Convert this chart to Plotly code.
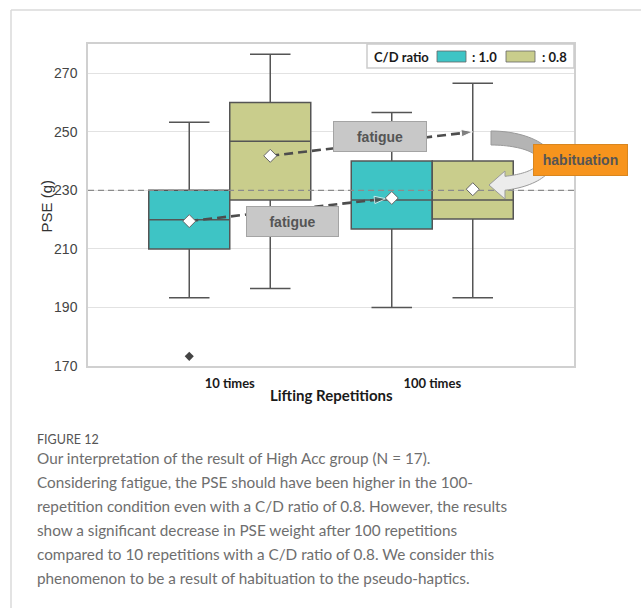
import math
import plotly.graph_objects as go

# Lifting repetitions on the x axis, C/D ratio groups within each
categories = ["10 times", "100 times"]
ratio_labels = [": 1.0", ": 0.8"]

# PSE (g) box statistics per C/D ratio, listed in category order
q1_cd10 = [210.0, 216.8]
median_cd10 = [220.0, 226.7]
q3_cd10 = [230.0, 240.0]
lower_cd10 = [193.3, 190.0]
upper_cd10 = [253.3, 256.6]
mean_cd10 = [219.5, 227.4]
outlier_cd10 = [173.3]          # single outlier in the 10-times group

q1_cd08 = [226.7, 220.2]
median_cd08 = [246.8, 226.7]
q3_cd08 = [260.0, 240.0]
lower_cd08 = [196.5, 193.3]
upper_cd08 = [276.5, 266.6]
mean_cd08 = [241.8, 230.4]

reference_pse = 230             # standard weight
fatigue_expected_cd08 = 250     # PSE expected at 100 times (C/D 0.8) from fatigue alone

y_ticks = [170, 190, 210, 230, 250, 270]

caption_title = "FIGURE 12"
caption_lines = [
    "Our interpretation of the result of High Acc group (N = 17).",
    "Considering fatigue, the PSE should have been higher in the 100-",
    "repetition condition even with a C/D ratio of 0.8. However, the results",
    "show a significant decrease in PSE weight after 100 repetitions",
    "compared to 10 repetitions with a C/D ratio of 0.8. We consider this",
    "phenomenon to be a result of habituation to the pseudo-haptics.",
]

# ---- geometry -----------------------------------------------------------
W, H = 641, 608
ML, MR, MT, MB = 88, 67, 44, 242
PW, PH = W - ML - MR, H - MT - MB
XR = [-0.7, 1.7]
YR = [170, 280]
OFFSET, BOX_W = 0.2, 0.4

TEAL = "#3ec4c5"
OLIVE = "#c9cd8c"
EDGE = "#555555"
CHART_FONT = "Lato, Liberation Sans, sans-serif"
CAPTION_FONT = "Lato, Liberation Sans, sans-serif"


def paper(px, py):
    """Pixel position on the page -> paper coordinates."""
    return (px - ML) / PW, (H - MB - py) / PH


def to_px(x, y):
    return (ML + (x - XR[0]) / (XR[1] - XR[0]) * PW,
            MT + (YR[1] - y) / (YR[1] - YR[0]) * PH)


def to_data(px, py):
    return (XR[0] + (px - ML) / PW * (XR[1] - XR[0]),
            YR[1] - (py - MT) / PH * (YR[1] - YR[0]))


def shorten(x0, y0, x1, y1, gap):
    """Pull the end of a segment back by `gap` pixels."""
    a, b = to_px(x0, y0), to_px(x1, y1)
    d = math.hypot(b[0] - a[0], b[1] - a[1])
    t = (d - gap) / d
    return to_data(a[0] + (b[0] - a[0]) * t, a[1] + (b[1] - a[1]) * t)


fig = go.Figure()

pos_cd10 = [i - OFFSET for i in range(len(categories))]
pos_cd08 = [i + OFFSET for i in range(len(categories))]

for pos, q1, med, q3, lo, hi, color in [
    (pos_cd10, q1_cd10, median_cd10, q3_cd10, lower_cd10, upper_cd10, TEAL),
    (pos_cd08, q1_cd08, median_cd08, q3_cd08, lower_cd08, upper_cd08, OLIVE),
]:
    fig.add_trace(go.Box(
        x=pos, q1=q1, median=med, q3=q3, lowerfence=lo, upperfence=hi,
        width=BOX_W, whiskerwidth=0.5, fillcolor=color,
        line=dict(color=EDGE, width=1.5), boxpoints=False,
        showlegend=False, hoverinfo="skip",
    ))

# outlier
fig.add_trace(go.Scatter(
    x=[pos_cd10[0]] * len(outlier_cd10), y=outlier_cd10, mode="markers",
    marker=dict(symbol="diamond", size=7, color="#444444"),
    showlegend=False, hoverinfo="skip",
))

# reference weight line
fig.add_trace(go.Scatter(
    x=XR, y=[reference_pse, reference_pse], mode="lines",
    line=dict(color="#8c8c8c", width=1.3, dash="6px,4px"),
    showlegend=False, hoverinfo="skip",
))

# fatigue arrows
arrows = [
    (pos_cd08[0], mean_cd08[0], pos_cd08[1], fatigue_expected_cd08, 0),
    (pos_cd10[0], mean_cd10[0], pos_cd10[1], mean_cd10[1], 6),
]
for x0, y0, x1, y1, gap in arrows:
    if gap:
        x1, y1 = shorten(x0, y0, x1, y1, gap)
    fig.add_trace(go.Scatter(
        x=[x0, x1], y=[y0, y1], mode="lines+markers",
        line=dict(color="#4d4d4d", width=2.6, dash="9px,5px"),
        marker=dict(symbol="arrow", size=[0, 12], angleref="previous",
                    color="#4d4d4d"),
        showlegend=False, hoverinfo="skip",
    ))

# means
fig.add_trace(go.Scatter(
    x=pos_cd10 + pos_cd08, y=mean_cd10 + mean_cd08, mode="markers",
    marker=dict(symbol="diamond", size=10, color="white",
                line=dict(color="#666666", width=1)),
    showlegend=False, hoverinfo="skip",
))

# ---- curved habituation arrow ------------------------------------------
cx, cy = 491, 161
orx, ory, irx, iry = 62, 30, 48, 16


def arc(rx, ry, a0, a1, n=24):
    pts = []
    for k in range(n + 1):
        t = math.radians(a0 + (a1 - a0) * k / n)
        pts.append(paper(cx + rx * math.cos(t), cy + ry * math.sin(t)))
    return pts


def path(points):
    return "M " + " L ".join(f"{x:.5f},{y:.5f}" for x, y in points) + " Z"


base_x = 505
ao = math.degrees(math.acos((base_x - cx) / orx))
ai = math.degrees(math.acos((base_x - cx) / irx))
upper_band = arc(orx, ory, -90, 0) + arc(irx, iry, 0, -90)
lower_band = (arc(orx, ory, 0, ao)
              + [paper(base_x, 199), paper(489, 185), paper(base_x, 171)]
              + arc(irx, iry, ai, 0))

shapes = [
    dict(type="path", xref="paper", yref="paper", path=path(upper_band),
         fillcolor="#b4b4b4", line=dict(color="#9a9a9a", width=1), layer="above"),
    dict(type="path", xref="paper", yref="paper", path=path(lower_band),
         fillcolor="#ececec", line=dict(color="#9a9a9a", width=1), layer="above"),
]

# ---- legend -------------------------------------------------------------
lx0, ly0 = paper(367, 44)
lx1, ly1 = paper(574, 68)
shapes.append(dict(type="rect", xref="paper", yref="paper", x0=lx0, y0=ly0,
                   x1=lx1, y1=ly1, fillcolor="white",
                   line=dict(color="#cccccc", width=1.5), layer="above"))
for sx, color in [(437, TEAL), (506, OLIVE)]:
    a, b = paper(sx, 51), paper(sx + 29, 62)
    shapes.append(dict(type="rect", xref="paper", yref="paper", x0=a[0], y0=a[1],
                       x1=b[0], y1=b[1], fillcolor=color,
                       line=dict(color="#666666", width=0.8), layer="above"))

# ---- card border --------------------------------------------------------
c0 = paper(11, 10)
shapes.append(dict(type="line", xref="paper", yref="paper", x0=c0[0], y0=c0[1],
                   x1=paper(641, 10)[0], y1=c0[1],
                   line=dict(color="#dadada", width=1.5)))
shapes.append(dict(type="line", xref="paper", yref="paper", x0=c0[0], y0=c0[1],
                   x1=c0[0], y1=paper(11, 608)[1],
                   line=dict(color="#dadada", width=1.5)))

annotations = []


def label(px, py, text, **kw):
    x, y = paper(px, py)
    d = dict(xref="paper", yref="paper", x=x, y=y, text=text, showarrow=False,
             xanchor="center", yanchor="middle")
    d.update(kw)
    annotations.append(d)


tag_font = dict(family="Liberation Sans, Arial, sans-serif", size=14,
                color="#555555", weight="bold")
label(380, 136.5, "fatigue", width=92, height=29, bgcolor="#c8c8c8",
      bordercolor="#a4a4a4", borderwidth=1, borderpad=0, font=tag_font)
label(292.5, 221.5, "fatigue", width=91, height=29, bgcolor="#c8c8c8",
      bordercolor="#a4a4a4", borderwidth=1, borderpad=0, font=tag_font)
label(580.5, 160, "habituation", width=93, height=30, bgcolor="#f7941d",
      bordercolor="#d9861e", borderwidth=1, borderpad=0, font=tag_font)

legend_font = dict(family=CHART_FONT, size=13, color="#1a1a1a", weight="bold")
label(372, 56.5, "C/D ratio", xanchor="left", font=legend_font)
label(470, 56.5, ratio_labels[0], xanchor="left", font=legend_font)
label(540, 56.5, ratio_labels[1], xanchor="left", font=legend_font)

label(46.5, 206, "PSE (g)", textangle=-90,
      font=dict(family="Liberation Sans, Arial, sans-serif", size=15, color="#333333"))
label(331, 395, "Lifting Repetitions",
      font=dict(family=CHART_FONT, size=15, color="#1a1a1a", weight="bold"))

label(35, 439, caption_title, xanchor="left",
      font=dict(family=CAPTION_FONT, size=12.5, color="#555555"))
for k, line in enumerate(caption_lines):
    label(35, 458 + k * 23.9, line, xanchor="left",
          font=dict(family=CAPTION_FONT, size=15.3, color="#6e6e6e"))

fig.update_layout(
    width=W, height=H, margin=dict(l=ML, r=MR, t=MT, b=MB, autoexpand=False),
    paper_bgcolor="white", plot_bgcolor="white",
    shapes=shapes, annotations=annotations,
    xaxis=dict(range=XR, tickvals=list(range(len(categories))), ticktext=categories,
               showgrid=False, zeroline=False, showline=True, mirror=True,
               linecolor="#d0d0d0", linewidth=1.5, ticks="outside", ticklen=5,
               tickcolor="rgba(0,0,0,0)",
               tickfont=dict(family=CHART_FONT, size=13, color="#1a1a1a",
                             weight="bold")),
    yaxis=dict(range=YR, tickvals=y_ticks, showgrid=True, gridcolor="#e2e2e2",
               gridwidth=1, zeroline=False, showline=True, mirror=True,
               linecolor="#d0d0d0", linewidth=1.5, ticks="outside", ticklen=6,
               tickcolor="rgba(0,0,0,0)",
               tickfont=dict(family="Liberation Sans, Arial, sans-serif",
                             size=14, color="#444444")),
)

fig.write_html("out.html")
